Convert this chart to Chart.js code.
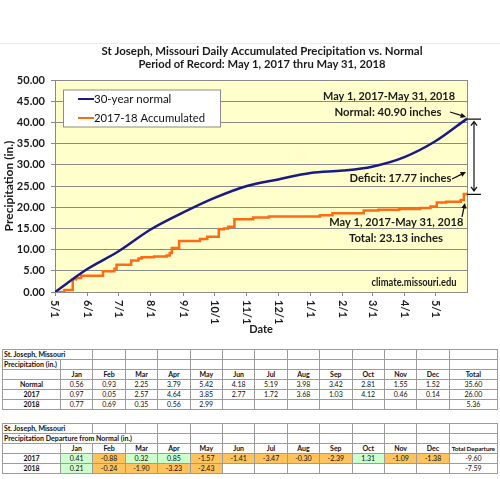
<!DOCTYPE html>
<html>
<head>
<meta charset="utf-8">
<script src="https://cdn.jsdelivr.net/npm/chart.js@4.4.1/dist/chart.umd.min.js"></script>
<style>
  body { margin: 0; background: #fff; font-family: Lato, "Liberation Sans", sans-serif; }
  #quadro { position: absolute; left: 0; top: 0; width: 500px; height: 340px; }
  #linhaTopo { position: absolute; left: 0; top: 43px; width: 500px; border-top: 1px solid #ececec; }
  table { position: absolute; left: 2px; width: 496px; border-collapse: collapse; table-layout: fixed; font-size: 7px; color: #111; }
  td { border: 1px solid #9c9c9c; height: 9px; line-height: 9px; padding: 0 1px; text-align: center; white-space: nowrap; overflow: visible; }
  td.rotulo { text-align: left; font-weight: bold; }
  td.cab { font-weight: bold; }
  td.pos { background: #ccffcc; }
  td.neg { background: #fec35c; }
  td.apertado { font-size: 6.4px; padding: 0; letter-spacing: -0.1px; }
  #tabela1 { top: 349px; }
  #tabela2 { top: 423px; }
</style>
</head>
<body>
<div id="linhaTopo"></div>
<div id="quadro"><canvas id="grafico"></canvas></div>
<table id="tabela1"></table>
<table id="tabela2"></table>
<script>
/* --- Dados das tabelas --- */
const meses = ["Jan", "Feb", "Mar", "Apr", "May", "Jun", "Jul", "Aug", "Sep", "Oct", "Nov", "Dec"];
const normalMensal = [0.56, 0.93, 2.25, 3.79, 5.42, 4.18, 5.19, 3.98, 3.42, 2.81, 1.55, 1.52];
const totalNormal = "35.60";
const chuva2017 = [0.97, 0.05, 2.57, 4.64, 3.85, 2.77, 1.72, 3.68, 1.03, 4.12, 0.46, 0.14];
const total2017 = "26.00";
const chuva2018 = [0.77, 0.69, 0.35, 0.56, 2.99];
const total2018 = "5.36";
const desvio2017 = [0.41, -0.88, 0.32, 0.85, -1.57, -1.41, -3.47, -0.30, -2.39, 1.31, -1.09, -1.38];
const desvioTotal2017 = "-9.60";
const desvio2018 = [0.21, -0.24, -1.90, -3.23, -2.43];
const desvioTotal2018 = "-7.59";

/* --- Dados do grafico (dias desde 1 de maio de 2017) --- */
const diasMes = [0, 31, 61, 92, 123, 153, 184, 214, 245, 276, 304, 335, 365, 395];
const rotulosX = ["5/1", "6/1", "7/1", "8/1", "9/1", "10/1", "11/1", "12/1", "1/1", "2/1", "3/1", "4/1", "5/1"];
const normalAcum = [0, 5.42, 9.60, 14.79, 18.77, 22.19, 25.00, 26.55, 28.07, 28.63, 29.56, 31.81, 35.60, 40.90];
const diasReal = [0, 9, 17, 20, 25, 46, 57, 59, 73, 80, 83, 95, 107, 110, 112, 119, 139, 146, 157, 162, 166, 172, 190, 205, 254, 266, 296, 310, 330, 350, 360, 366, 375, 389, 392, 395];
const chuvaAcum = [0, 0.5, 3.0, 3.3, 3.85, 4.9, 5.5, 6.4, 7.4, 7.9, 8.2, 8.4, 8.6, 9.2, 10.4, 12.05, 12.5, 13.06, 14.8, 15.0, 15.4, 17.18, 17.6, 17.78, 18.1, 18.55, 19.24, 19.4, 19.59, 19.8, 20.15, 21.1, 21.3, 21.7, 23.13, 23.13];
const yTicks = [0, 5, 10, 15, 20, 25, 30, 35, 40, 45, 50];

const corNormal = "#1a1a86";
const corReal = "#ff6a14";
const fonte = "Lato, 'Liberation Sans', sans-serif";

/* --- Montagem das tabelas --- */
function celula(texto, classe, span) {
  const td = document.createElement("td");
  td.textContent = texto;
  if (classe) td.className = classe;
  if (span) td.colSpan = span;
  return td;
}

function linha(tabela, celulas) {
  const tr = document.createElement("tr");
  celulas.forEach(c => tr.appendChild(c));
  tabela.appendChild(tr);
}

function vazias(n) {
  return Array.from({ length: n }, () => celula(""));
}

const tabela1 = document.getElementById("tabela1");
const cols = document.createElement("colgroup");
cols.innerHTML = '<col style="width:58px">' + meses.map(() => '<col style="width:32.4px">').join("") + '<col>';
tabela1.appendChild(cols);
linha(tabela1, [celula("St. Joseph, Missouri", "rotulo", 2), ...vazias(12)]);
linha(tabela1, [celula("Precipitation (in.)", "rotulo"), ...vazias(13)]);
linha(tabela1, [celula(""), ...meses.map(m => celula(m, "cab")), celula("Total", "cab")]);
linha(tabela1, [celula("Normal", "cab"), ...normalMensal.map(v => celula(v.toFixed(2))), celula(totalNormal)]);
linha(tabela1, [celula("2017", "cab"), ...chuva2017.map(v => celula(v.toFixed(2))), celula(total2017)]);
linha(tabela1, [celula("2018", "cab"), ...meses.map((m, i) => celula(i < chuva2018.length ? chuva2018[i].toFixed(2) : "")), celula(total2018)]);

const tabela2 = document.getElementById("tabela2");
tabela2.appendChild(cols.cloneNode(true));
linha(tabela2, [celula("St. Joseph, Missouri", "rotulo", 2), ...vazias(12)]);
linha(tabela2, [celula("Precipitation Departure from Normal (in.)", "rotulo", 4), ...vazias(10)]);
linha(tabela2, [celula(""), ...meses.map(m => celula(m, "cab")), celula("Total Departure", "cab apertado")]);
linha(tabela2, [celula("2017", "cab"), ...desvio2017.map(v => celula(v.toFixed(2), v >= 0 ? "pos" : "neg")), celula(desvioTotal2017)]);
linha(tabela2, [celula("2018", "cab"), ...meses.map((m, i) => i < desvio2018.length ? celula(desvio2018[i].toFixed(2), desvio2018[i] >= 0 ? "pos" : "neg") : celula("")), celula(desvioTotal2018)]);

/* --- Setas --- */
function seta(ctx, x1, y1, x2, y2, tam) {
  const ang = Math.atan2(y2 - y1, x2 - x1);
  ctx.beginPath();
  ctx.moveTo(x1, y1);
  ctx.lineTo(x2 - Math.cos(ang) * tam * 0.6, y2 - Math.sin(ang) * tam * 0.6);
  ctx.stroke();
  ctx.beginPath();
  ctx.moveTo(x2, y2);
  ctx.lineTo(x2 - tam * Math.cos(ang - 0.45), y2 - tam * Math.sin(ang - 0.45));
  ctx.lineTo(x2 - tam * Math.cos(ang + 0.45), y2 - tam * Math.sin(ang + 0.45));
  ctx.closePath();
  ctx.fill();
}

function texto(ctx, t, xDir, y, larg) {
  ctx.textAlign = "right";
  ctx.textBaseline = "middle";
  ctx.fillText(t, xDir, y, larg);
}

/* --- Plugin: fundo, titulo, legenda e anotacoes --- */
const anotacoes = {
  id: "anotacoes",
  beforeDraw(chart) {
    const { ctx, chartArea: a } = chart;
    ctx.save();
    ctx.fillStyle = "#ffffcc";
    ctx.fillRect(a.left, a.top, a.right - a.left, a.bottom - a.top);
    ctx.restore();
  },
  afterDraw(chart) {
    const { ctx, chartArea: a } = chart;
    const xs = chart.scales.x;
    const ys = chart.scales.y;
    ctx.save();

    // borda direita
    ctx.strokeStyle = "#8a8a8a";
    ctx.lineWidth = 1;
    ctx.beginPath();
    ctx.moveTo(Math.round(a.right) + 0.5, a.top);
    ctx.lineTo(Math.round(a.right) + 0.5, a.bottom);
    ctx.stroke();

    // titulo
    ctx.fillStyle = "#1a1a1a";
    ctx.textAlign = "center";
    ctx.textBaseline = "middle";
    ctx.font = "bold 12px " + fonte;
    ctx.fillText("St Joseph, Missouri Daily Accumulated Precipitation vs. Normal", 262, 51, 321);
    ctx.fillText("Period of Record: May 1, 2017 thru May 31, 2018", 262, 64.5, 247);

    // rotulos do eixo x (texto de cima para baixo)
    ctx.font = "bold 11px " + fonte;
    ctx.textAlign = "left";
    rotulosX.forEach((r, i) => {
      ctx.save();
      ctx.translate(xs.getPixelForValue(diasMes[i]), a.bottom + 8);
      ctx.rotate(Math.PI / 2);
      ctx.fillText(r, 0, 0);
      ctx.restore();
    });

    // legenda
    const lx = a.left + 8, ly = a.top + 9.5;
    ctx.fillStyle = "#fff";
    ctx.fillRect(lx, ly, 157, 37);
    ctx.strokeStyle = "#8c8c8c";
    ctx.strokeRect(lx + 0.5, ly + 0.5, 157, 37);
    chart.data.datasets.forEach((ds, i) => {
      const yy = ly + 9.5 + i * 19;
      ctx.strokeStyle = ds.borderColor;
      ctx.lineWidth = 2;
      ctx.beginPath();
      ctx.moveTo(lx + 15, yy);
      ctx.lineTo(lx + 31, yy);
      ctx.stroke();
      ctx.fillStyle = "#111";
      ctx.font = "11.5px " + fonte;
      ctx.textAlign = "left";
      ctx.fillText(ds.label, lx + 31, yy, i === 0 ? 78 : 111);
    });

    // anotacoes
    const fimX = xs.getPixelForValue(395);
    const yNormal = ys.getPixelForValue(40.90);
    const yReal = ys.getPixelForValue(23.13);
    ctx.fillStyle = "#1a1a1a";
    ctx.strokeStyle = "#111";
    ctx.font = "bold 11.5px " + fonte;
    texto(ctx, "May 1, 2017-May 31, 2018", a.right - 12, a.top + 16.6, 132);
    texto(ctx, "Normal: 40.90 inches", a.right - 25.5, a.top + 32.6, 107);
    texto(ctx, "Deficit: 17.77 inches", a.right - 15.5, a.top + 98.5, 102);
    texto(ctx, "May 1, 2017-May 31, 2018", a.right - 3.7, a.top + 142.6, 134);
    texto(ctx, "Total: 23.13 inches", a.right - 24, a.top + 158.3, 94);
    ctx.font = "bold 10.5px " + fonte;
    texto(ctx, "climate.missouri.edu", a.right - 10.5, a.top + 202.6, 85);

    ctx.fillStyle = "#111";
    ctx.lineWidth = 1.3;
    seta(ctx, a.right - 17, a.top + 32, fimX - 1, yNormal - 1.5, 6);
    seta(ctx, a.right - 15, a.top + 99, a.right - 1, a.top + 92, 6);
    seta(ctx, a.right - 5, yReal + 23, a.right - 2, yReal + 9, 6);

    // seta dupla do deficit
    const xd = a.right + 7;
    ctx.lineWidth = 1.2;
    ctx.beginPath();
    ctx.moveTo(xd - 7, yNormal + 0.5); ctx.lineTo(xd + 7, yNormal + 0.5);
    ctx.moveTo(xd - 7, yReal + 0.5); ctx.lineTo(xd + 7, yReal + 0.5);
    ctx.moveTo(xd, yNormal + 3); ctx.lineTo(xd, yReal - 3);
    ctx.moveTo(xd - 3, yNormal + 7); ctx.lineTo(xd, yNormal + 3); ctx.lineTo(xd + 3, yNormal + 7);
    ctx.moveTo(xd - 3, yReal - 7); ctx.lineTo(xd, yReal - 3); ctx.lineTo(xd + 3, yReal - 7);
    ctx.stroke();

    ctx.restore();
  }
};

/* --- Grafico --- */
const ctx = document.getElementById("grafico").getContext("2d");

new Chart(ctx, {
  type: "line",
  data: {
    datasets: [{
      label: "30-year normal",
      data: diasMes.map((d, i) => ({ x: d, y: normalAcum[i] })),
      borderColor: corNormal,
      borderWidth: 2.5,
      pointRadius: 0,
      cubicInterpolationMode: "monotone"
    }, {
      label: "2017-18 Accumulated",
      data: diasReal.map((d, i) => ({ x: d, y: chuvaAcum[i] })),
      borderColor: corReal,
      borderWidth: 2.5,
      pointRadius: 0,
      stepped: true
    }]
  },
  options: {
    responsive: true,
    maintainAspectRatio: false,
    animation: false,
    layout: { padding: { top: 80, right: 33, left: 0, bottom: 0 } },
    plugins: {
      legend: { display: false },
      tooltip: { enabled: false },
      title: { display: false }
    },
    scales: {
      x: {
        type: "linear",
        min: 0,
        max: 395,
        afterBuildTicks: (scale) => { scale.ticks = diasMes.slice(0, rotulosX.length).map(v => ({ value: v })); },
        afterFit: (scale) => { scale.height = 48; },
        grid: { drawOnChartArea: false, drawTicks: true, tickLength: 4, color: "#8a8a8a" },
        border: { color: "#8a8a8a" },
        ticks: { display: false },
        title: { display: true, text: "Date", color: "#1a1a1a", font: { family: fonte, size: 11, weight: "bold" }, padding: { top: 0, bottom: 4 } }
      },
      y: {
        min: 0,
        max: 50,
        afterBuildTicks: (scale) => { scale.ticks = yTicks.map(v => ({ value: v })); },
        afterFit: (scale) => { scale.width = 55; },
        grid: { color: "#8a8a8a", tickLength: 4 },
        border: { color: "#8a8a8a" },
        ticks: {
          color: "#1a1a1a",
          padding: 6,
          font: { family: fonte, size: 11, weight: "bold" },
          callback: (v) => Number(v).toFixed(2)
        },
        title: { display: true, text: "Precipitation (in.)", color: "#1a1a1a", font: { family: fonte, size: 12, weight: "bold" }, padding: { top: 2, bottom: 0 } }
      }
    }
  },
  plugins: [anotacoes]
});
</script>
</body>
</html>
